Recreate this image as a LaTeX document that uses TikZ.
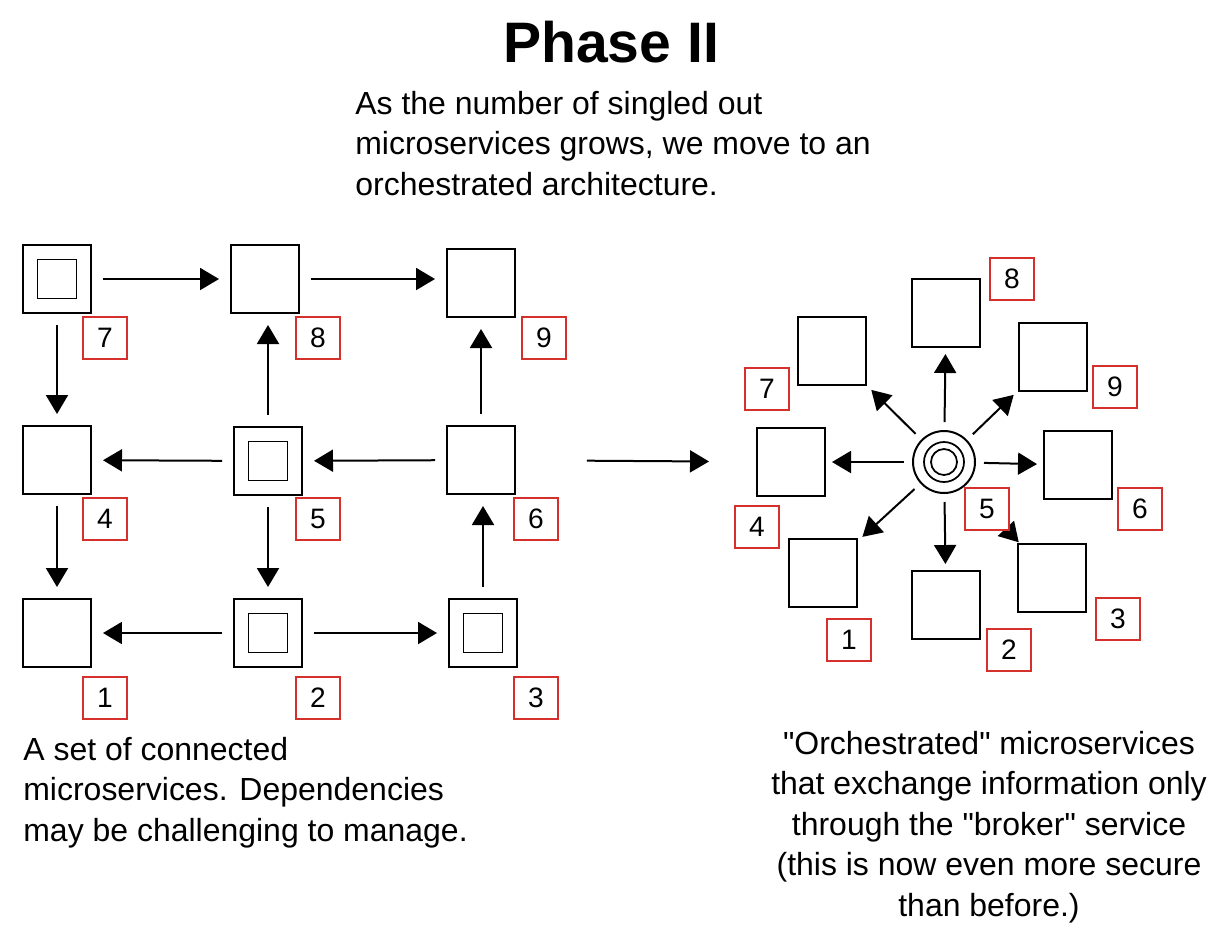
\documentclass[tikz,border=0pt]{standalone}
\usepackage{fontspec}
\setmainfont{Liberation Sans}
\usetikzlibrary{positioning, arrows.meta}
\definecolor{tagred}{RGB}{214,48,44}
\tikzset{
  x=0.02cm, y=-0.02cm,
  svc/.style={draw, line width=0.04cm, minimum size=1.36cm, inner sep=0pt},
  dsvc/.style={svc, path picture={
      \draw[line width=0.038cm]
        ([shift={(-0.39cm,-0.39cm)}]path picture bounding box.center) rectangle
        ([shift={(0.39cm,0.39cm)}]path picture bounding box.center);}},
  hub/.style={circle, draw, line width=0.04cm, minimum size=1.24cm, inner sep=0pt},
  tag/.style={draw=tagred, line width=0.03cm, fill=white, minimum width=0.88cm,
    minimum height=0.84cm, inner sep=0pt, font=\fontsize{16}{18}\selectfont},
  link/.style={-{Triangle[length=0.38cm,width=0.44cm]}, line width=0.04cm,
    shorten <=0.22cm, shorten >=0.22cm},
  para/.style={align=left, inner sep=0pt, font=\fontsize{18.2}{23}\selectfont}
}

\begin{document}
\begin{tikzpicture}
  \useasboundingbox (0,0) rectangle (1226,938);

  \node[font=\fontsize{32.5}{38}\selectfont\bfseries] (title) at (611,42) {Phase II};
  \node[para, anchor=north west] (intro) at (355,91)
    {As the number of singled out\\microservices grows, we move to an\\orchestrated architecture.};

  % connected services
  \node[dsvc] (a7) at (57,279) {};
  \node[svc] (a8) at (265,279) {};
  \node[svc] (a9) at (481,283) {};
  \node[svc] (a4) at (57,460) {};
  \node[dsvc] (a5) at (268,461) {};
  \node[svc] (a6) at (481,460) {};
  \node[svc] (a1) at (57,633) {};
  \node[dsvc] (a2) at (268,633) {};
  \node[dsvc] (a3) at (483,633) {};

  \node[tag] (ta7) at (105,338) {7};
  \node[tag] (ta8) at (318,338) {8};
  \node[tag] (ta9) at (544,338) {9};
  \node[tag] (ta4) at (105,519) {4};
  \node[tag] (ta5) at (318,519) {5};
  \node[tag] (ta6) at (536,519) {6};
  \node[tag] (ta1) at (105,698) {1};
  \node[tag] (ta2) at (318,698) {2};
  \node[tag] (ta3) at (536,698) {3};

  \draw[link] (a7) -- (a8);
  \draw[link] (a8.east) -- (a8.east -| a9.west);
  \draw[link] (a7) -- (a4);
  \draw[link] (a5.north) -- (a5.north |- a8.south);
  \draw[link] (a6) -- (a9);
  \draw[link] (a5) -- (a4);
  \draw[link] (a6) -- (a5);
  \draw[link] (a4) -- (a1);
  \draw[link] (a5) -- (a2);
  \draw[link] (a3.north) -- (a3.north |- a6.south);
  \draw[link] (a2) -- (a1);
  \draw[link] (a2) -- (a3);

  % orchestrated services
  \node[hub] (hub) at (944,462) {};
  \draw[line width=0.035cm] (hub.center) circle (0.4cm) circle (0.26cm);

  \node[svc] (b8) at (946,313) {};
  \node[svc] (b7) at (832,351) {};
  \node[svc] (b9) at (1053,357) {};
  \node[svc] (b4) at (791,462) {};
  \node[svc] (b6) at (1078,465) {};
  \node[svc] (b1) at (823,573) {};
  \node[svc] (b2) at (946,605) {};
  \node[svc] (b3) at (1052,578) {};

  \foreach \i in {1,2,4,6,7,8,9}
    \draw[link, shorten <=0.16cm, shorten >=0.12cm] (hub) -- (b\i);
  \draw[link, shorten <=0.16cm, shorten >=0.02cm] (hub) -- (b3);

  \node[tag] (tb8) at (1012,279) {8};
  \node[tag] (tb7) at (767,389) {7};
  \node[tag] (tb9) at (1115,387) {9};
  \node[tag] (tb4) at (757,527) {4};
  \node[tag] (tb5) at (987,509) {5};
  \node[tag] (tb6) at (1140,509) {6};
  \node[tag] (tb1) at (849,640) {1};
  \node[tag] (tb2) at (1009,650) {2};
  \node[tag] (tb3) at (1118,619) {3};

  \draw[link, shorten <=1.42cm, shorten >=0.94cm] (a6) -- (b4);

  \node[para, anchor=north west] (leftnote) at (23,737)
    {A set of connected\\microservices. Dependencies\\may be challenging to manage.};
  \node[para, anchor=north, align=center] (rightnote) at (989,731)
    {\textquotedbl Orchestrated\textquotedbl{} microservices\\that exchange information only\\
     through the \textquotedbl broker\textquotedbl{} service\\(this is now even more secure\\than before.)};
\end{tikzpicture}
\end{document}
